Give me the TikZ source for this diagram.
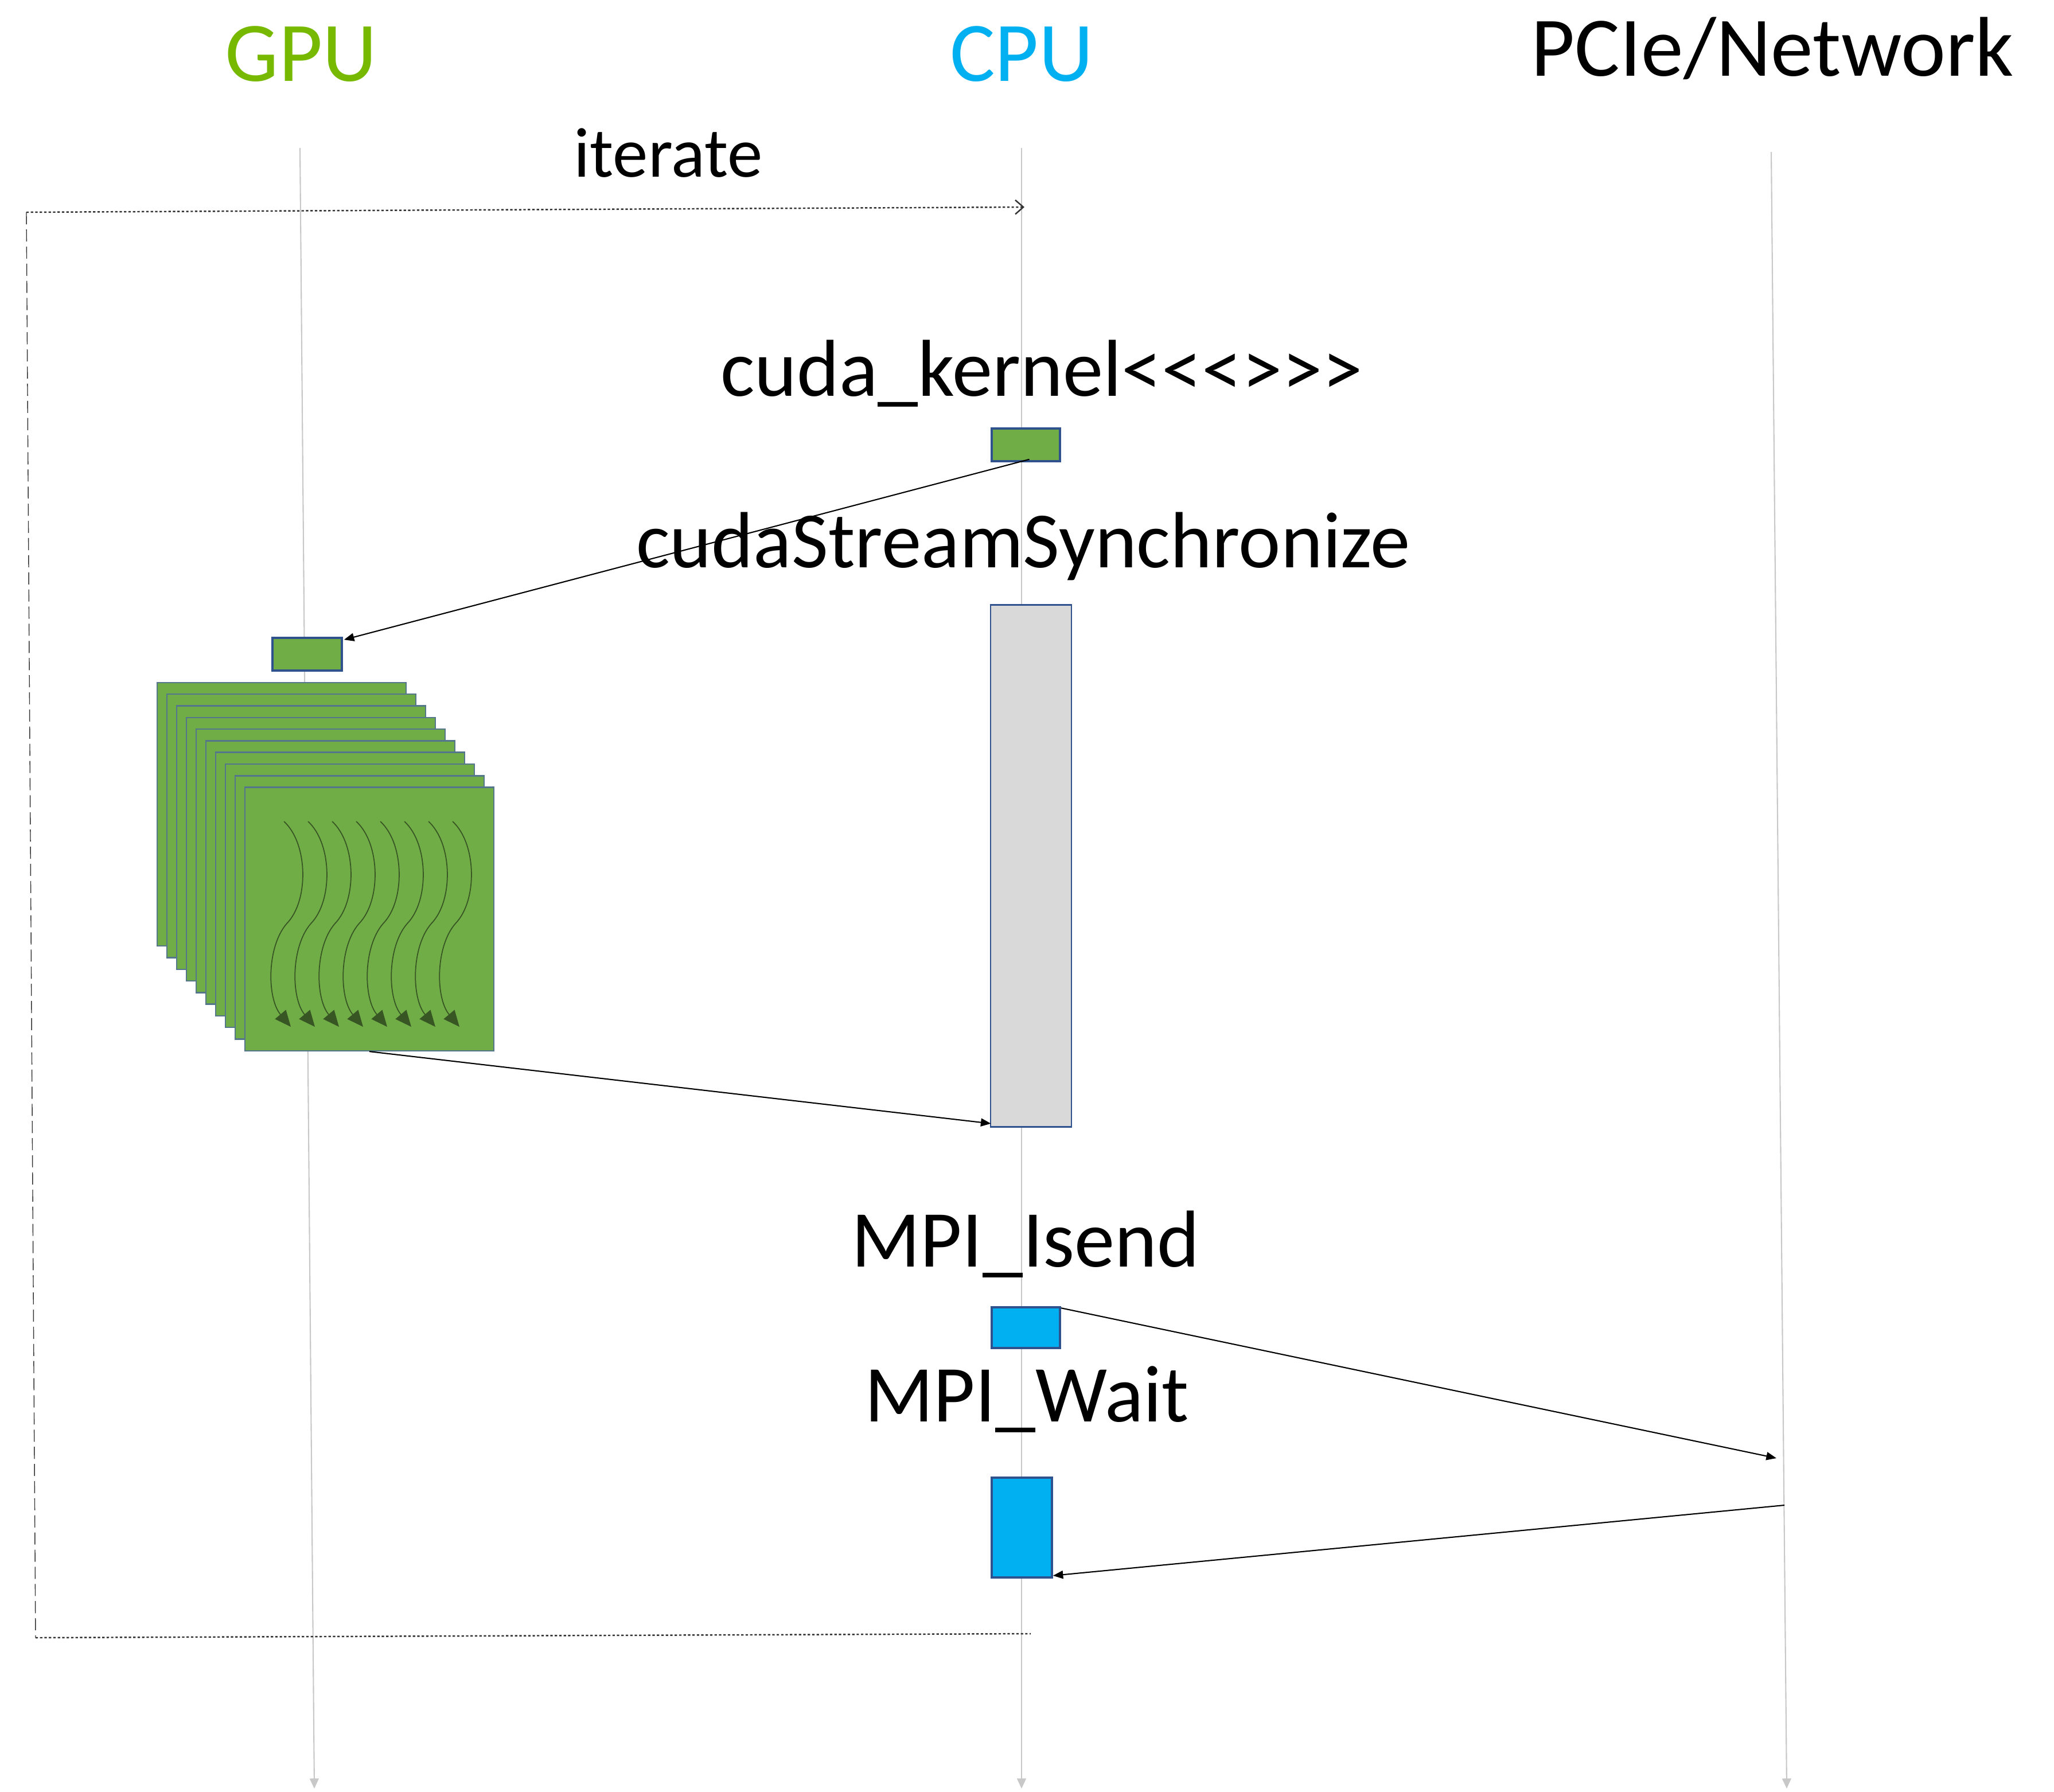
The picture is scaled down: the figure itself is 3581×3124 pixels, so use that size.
\documentclass[tikz,border=0pt]{standalone}
\usepackage{fontspec}
\setmainfont{Carlito}[Ligatures=TeXOff]
\usetikzlibrary{arrows.meta,calc}
\definecolor{gpugreen}{RGB}{118,185,0}
\definecolor{cpublue}{RGB}{0,176,240}
\definecolor{boxgreen}{RGB}{112,173,71}
\definecolor{boxedge}{RGB}{47,82,143}
\definecolor{sqedge}{RGB}{84,118,140}
\definecolor{lifegray}{RGB}{200,200,200}
\definecolor{wavegreen}{RGB}{55,86,35}
\definecolor{syncgray}{RGB}{217,217,217}

\begin{document}
\begin{tikzpicture}[x=0.01cm, y=-0.01cm,
    head/.style={anchor=base, font=\fontsize{42}{50}\selectfont},
    call/.style={anchor=base, font=\fontsize{40}{48}\selectfont},
    life/.style={draw=lifegray, line width=0.6pt, -{Triangle[length=5pt, width=4.5pt]}},
    gbox/.style={rectangle, draw=boxedge, fill=boxgreen, line width=1pt, inner sep=0pt},
    cbox/.style={rectangle, draw=boxedge, fill=cpublue, line width=1pt, inner sep=0pt},
    sbox/.style={rectangle, draw=boxedge, fill=syncgray, line width=0.8pt, inner sep=0pt},
    sq/.style={rectangle, draw=sqedge, fill=boxgreen, line width=0.7pt, inner sep=0pt, minimum width=4.34cm, minimum height=4.59cm},
    wave/.style={draw=wavegreen, line width=0.5pt, -{Triangle[length=8pt, width=7pt]}},
    msg/.style={draw=black, line width=0.6pt, -{Triangle[length=5pt, width=4pt]}},
    loopdot/.style={draw=black!80, line width=0.7pt, dash pattern=on 1.2pt off 1pt},
    loopdash/.style={draw=black!80, line width=0.4pt, dash pattern=on 6pt off 2.5pt}
]
    \useasboundingbox (0,0) rectangle (3581,3124);

    \node[head, text=gpugreen] (gpu) at (525,142) {GPU};
    \node[head, text=cpublue] (cpu) at (1781,142) {CPU};
    \node[head] (net) at (3090,133) {PCIe/Network};

    \coordinate (gputop) at (523,258);
    \coordinate (gpuend) at (548,3118);
    \coordinate (cputop) at (1781,258);
    \coordinate (cpuend) at (1781,3118);
    \coordinate (nettop) at (3088,265);
    \coordinate (netend) at (3115,3118);
    \draw[life] (gputop) -- (gpuend);
    \draw[life] (cputop) -- (cpuend);
    \draw[life] (nettop) -- (netend);

    \node[anchor=base, font=\fontsize{35}{42}\selectfont] (iter) at (1165,308) {iterate};
    \coordinate (lpa) at (46,370);
    \coordinate (lpb) at (1786,361);
    \coordinate (lpc) at (62,2855);
    \coordinate (lpd) at (1797,2848);
    \draw[loopdot, -{Straight Barb[length=4pt, width=7pt]}] (lpa) -- (lpb);
    \draw[loopdash] (lpa) -- (lpc);
    \draw[loopdot] (lpc) -- (lpd);

    \node[call] (kname) at (1816,690) {cuda\_kernel<<<>>>};
    \node[gbox, minimum width=1.19cm, minimum height=0.57cm] (kernel) at (1788.5,775.5) {};
    \node[call, font=\fontsize{39.5}{48}\selectfont] (sname) at (1784,989) {cudaStreamSynchronize};
    \node[sbox, minimum width=1.41cm, minimum height=9.09cm] (sync) at (1797.5,1509.5) {};
    \node[gbox, minimum width=1.21cm, minimum height=0.57cm] (gpukern) at (535.5,1140.5) {};

    \foreach \i in {0,...,9}
        \node[sq] (sq\i) at ({491+17*\i},{1419.5+20.3*\i}) {};
    \foreach \k in {0,...,7}{
        \pgfmathsetmacro{\wx}{495+42*\k}
        \draw[wave] (\wx,1432) .. controls (\wx+42,1470) and (\wx+44,1570) .. (\wx+5,1610)
            .. controls (\wx-30,1650) and (\wx-30,1740) .. (\wx+12,1790);
    }

    \node[call] (iname) at (1788,2208) {MPI\_Isend};
    \node[cbox, minimum width=1.19cm, minimum height=0.71cm] (isend) at (1788.5,2314.5) {};
    \node[call] (wname) at (1790,2478) {MPI\_Wait};
    \node[cbox, minimum width=1.05cm, minimum height=1.74cm] (wait) at (1781.5,2663) {};
    \coordinate (netin) at (3097,2542);
    \coordinate (netout) at (3111,2624);

    \draw[msg] ($(kernel.south)+(6,-5)$) -- ($(gpukern.north east)+(2,5)$);
    \draw[msg] (sq9.south) -- ($(sync.south west)+(2,-7)$);
    \draw[msg] ($(isend.north east)+(0,3)$) -- (netin);
    \draw[msg] (netout) -- ($(wait.south east)+(0,-5)$);
\end{tikzpicture}
\end{document}
